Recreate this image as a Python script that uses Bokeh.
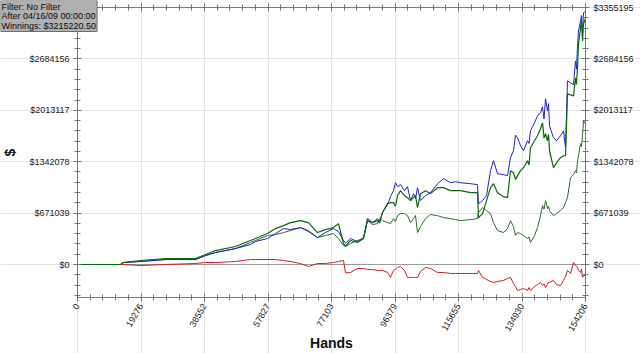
import numpy as np
from bokeh.plotting import figure
from bokeh.models import LinearAxis, FixedTicker, PrintfTickFormatter, Range1d, Label
from bokeh.embed import file_html
from bokeh.resources import INLINE

# ---- data (hands in thousands, dollars in thousands) ----
hands_k = [0, 13.05, 13.96, 19.12, 26.71, 35.82, 38.86, 41.89, 47.96, 52.52,
           54.03, 57.68, 60.10, 62.53, 64.66, 67.69, 70.12, 72.85, 75.28, 77.71,
           79.23, 80.75, 81.36, 82.87, 85.00, 86.82, 88.03, 89.55, 91.07, 91.68, 92.59, 94.10,
           95.01, 95.92, 96.53, 97.14, 98.05, 99.26, 100.17, 101.09, 102.00, 102.60, 103.21, 104.12,
           105.64, 107.16, 109.28, 111.10, 113.23, 114.75, 116.26, 119.30, 121.42, 121.73,
           122.94, 124.16, 125.37, 126.28, 127.50, 129.32, 130.53, 131.44, 132.35, 132.96, 133.57,
           134.48, 135.39, 136.60, 137.06, 137.51, 138.73, 139.64, 140.55, 141.16, 141.61, 142.07, 142.67, 142.98,
           143.28, 144.49, 145.41, 146.62, 147.53, 148.14, 148.74, 149.66, 150.57, 151.17, 151.47,
           151.78, 152.08, 152.69, 152.99, 153.30, 153.60, 154.206]

allin_ev_k = [0, 0, 26, 39, 65, 65, 117, 156, 208, 261,
              300, 339, 404, 469, 456, 482, 430, 352, 417, 469,
              430, 313, 280, 339, 300, 352, 573, 547, 599, 560, 678, 782,
              886, 964, 1068, 1016, 1042, 964, 1016, 834, 925, 860, 1003, 834,
              899, 938, 1055, 1121, 1068, 1081, 1068, 1055, 1042, 795,
              834, 899, 1225, 1355, 1186, 1173, 1160, 1394, 1485, 1690, 1655,
              1551, 1485, 1616, 1580, 1746, 1850, 1941, 1981, 2059, 1900, 2163, 2007, 2100,
              1811, 1655, 1616, 1681, 1746, 1525, 2398, 2371, 2345, 2658, 2550,
              2854, 3049, 3179, 3250, 3010, 3284, 3310]

winnings_k = [0, 0, 26, 52, 78, 78, 130, 182, 235, 313,
              339, 404, 469, 508, 547, 573, 547, 417, 456, 482,
              534, 274, 240, 313, 287, 339, 599, 547, 573, 540, 678, 795,
              808, 808, 760, 899, 964, 899, 873, 834, 873, 900, 743, 925,
              964, 925, 1003, 1003, 964, 964, 964, 938, 938, 612,
              665, 834, 1003, 1055, 938, 886, 873, 1225, 1199, 1110, 1160,
              1225, 1264, 1355, 1300, 1525, 1616, 1681, 1772, 1850, 1650, 1707, 1616, 1700,
              1485, 1264, 1329, 1394, 1420, 1420, 2228, 2215, 2202, 2437, 2350,
              2567, 2880, 3088, 3180, 2919, 3140, 3215.2205]

showdown_k = [0, 0, 26, 39, 65, 65, 117, 156, 208, 287,
              313, 378, 391, 417, 443, 482, 443, 352, 378, 404,
              339, 248, 235, 274, 313, 339, 573, 521, 534, 600, 573, 547,
              534, 599, 560, 638, 665, 665, 638, 547, 599, 640, 417, 495,
              599, 652, 638, 612, 599, 586, 573, 586, 599, 678,
              743, 704, 665, 547, 443, 417, 469, 573, 495, 380, 417,
              404, 378, 339, 360, 287, 378, 482, 638, 769, 720, 834, 730, 760,
              704, 638, 665, 704, 743, 808, 873, 1134, 1173, 1225, 1200,
              1355, 1420, 1577, 1540, 1681, 1876, 1837]

nonshowdown_k = [0, 0, 0, -13, 0, 13, 26, 26, 39, 65,
                 65, 65, 65, 52, 39, 13, -26, 13, 13, 26,
                 39, 52, -110, -104, -52, -52, -65, -65, -78, -78, -78, -104,
                 -169, -78, -60, -39, -26, -78, -169, -169, -169, -169, -169, -91,
                 -39, -52, -104, -104, -117, -117, -117, -117, -117, -78,
                 -169, -195, -222, -235, -222, -208, -182, -169, -248, -290, -339,
                 -326, -313, -339, -300, -339, -287, -261, -235, -274, -250, -300, -261, -230,
                 -235, -208, -261, -274, -208, -156, -78, -117, 26, -13, -20,
                 -39, -78, -104, -60, -169, -143, -143]

TOTAL_HANDS = 154206
Y_MAX = 3355195
info_lines = ["Filter: No Filter", "After 04/16/09 00:00:00", "Winnings: $3215220.50"]

n = len(hands_k)
assert all(len(s) == n for s in (allin_ev_k, winnings_k, showdown_k, nonshowdown_k))

x = np.array(hands_k) * 1000
to_d = lambda a: np.array(a) * 1000

# ---- layout (canvas pixels) ----
W, H = 640, 353
PLOT_L, PLOT_R, PLOT_T, PLOT_B, ZERO_PX = 77, 585, 7, 297, 264
hpp = TOTAL_HANDS / (PLOT_R - PLOT_L)
vpp = Y_MAX / (ZERO_PX - PLOT_T)
Y_BOTTOM = -(PLOT_B - ZERO_PX) * vpp

FONT = "Liberation Sans"

p = figure(width=W, height=H, output_backend="svg", toolbar_location=None,
           x_range=Range1d(-PLOT_L * hpp, TOTAL_HANDS + (W - PLOT_R) * hpp),
           y_range=Range1d(Y_BOTTOM - (H - PLOT_B) * vpp, Y_MAX + PLOT_T * vpp),
           min_border=0, x_axis_label="Hands", y_axis_label="$")
p.outline_line_color = None
p.background_fill_color = "white"
p.border_fill_color = "white"

x_major = [TOTAL_HANDS * i / 8 for i in range(9)]
x_minor = [TOTAL_HANDS * i / 40 for i in range(41)]
y_major = [Y_MAX * i / 5 for i in range(6)]
y_minor = [Y_MAX * i / 25 for i in range(-3, 26)]
xt = FixedTicker(ticks=x_major, minor_ticks=x_minor)
yt = FixedTicker(ticks=y_major, minor_ticks=y_minor)


def style_axis(ax, labels=True):
    ax.axis_line_color = "#777777"
    ax.major_tick_line_color = "#777777"
    ax.minor_tick_line_color = "#777777"
    ax.major_tick_in = 4
    ax.major_tick_out = 4
    ax.minor_tick_in = 3
    ax.minor_tick_out = 3
    ax.major_label_text_font = FONT
    ax.major_label_text_font_size = "9px" if labels else "0px"
    ax.major_label_text_color = "#222222"
    ax.major_label_standoff = 4
    ax.axis_label_text_font = FONT
    ax.axis_label_text_font_style = "bold"
    ax.axis_label_text_font_size = "14px"
    ax.axis_label_text_color = "#111111"


xa = p.xaxis[0]
xa.ticker = xt
xa.formatter = PrintfTickFormatter(format="%.0f")
xa.major_label_orientation = np.pi / 3
xa.fixed_location = Y_BOTTOM
xa.bounds = (0, TOTAL_HANDS)
style_axis(xa)
xa.major_label_standoff = 3
xa.axis_label_standoff = -2

ya = p.yaxis[0]
ya.ticker = yt
ya.formatter = PrintfTickFormatter(format="$%.0f")
ya.fixed_location = 0
ya.bounds = (Y_BOTTOM, Y_MAX)
style_axis(ya)
ya.axis_label_standoff = 8

ra = LinearAxis(ticker=yt, formatter=PrintfTickFormatter(format="$%.0f"),
                fixed_location=TOTAL_HANDS, bounds=(Y_BOTTOM, Y_MAX))
style_axis(ra)
p.add_layout(ra, "right")

ta = LinearAxis(ticker=xt, formatter=PrintfTickFormatter(format=""),
                fixed_location=Y_MAX, bounds=(0, TOTAL_HANDS))
style_axis(ta, labels=False)
ta.major_label_standoff = 0
p.add_layout(ta, "above")

p.xgrid.ticker = xt
p.ygrid.ticker = yt
p.xgrid.bounds = (Y_BOTTOM, Y_MAX)
p.ygrid.bounds = (0, TOTAL_HANDS)
p.xgrid.grid_line_color = "#e4e4e4"
p.ygrid.grid_line_color = "#e4e4e4"

# zero reference line across the plotted hand range
p.line([0, TOTAL_HANDS], [0, 0], line_color="#9a9a9a", line_width=1)

p.line(x, to_d(showdown_k), line_color="#2e6b2e", line_width=1)
p.line(x, to_d(nonshowdown_k), line_color="#cc2020", line_width=1)
p.line(x, to_d(allin_ev_k), line_color="#2323c8", line_width=1)
p.line(x, to_d(winnings_k), line_color="#0a6a0a", line_width=1.2)

p.add_layout(Label(x=0, y=H, x_units="screen", y_units="screen",
                   text="\n".join(info_lines), anchor="top_left", level="overlay",
                   text_font=FONT, text_font_size="9px", text_color="#0a0a0a",
                   text_line_height=0.95,
                   background_fill_color="#b0b0b0", border_line_color="#6e6e6e",
                   padding=1))

open("out.html", "w").write(file_html(p, INLINE))
